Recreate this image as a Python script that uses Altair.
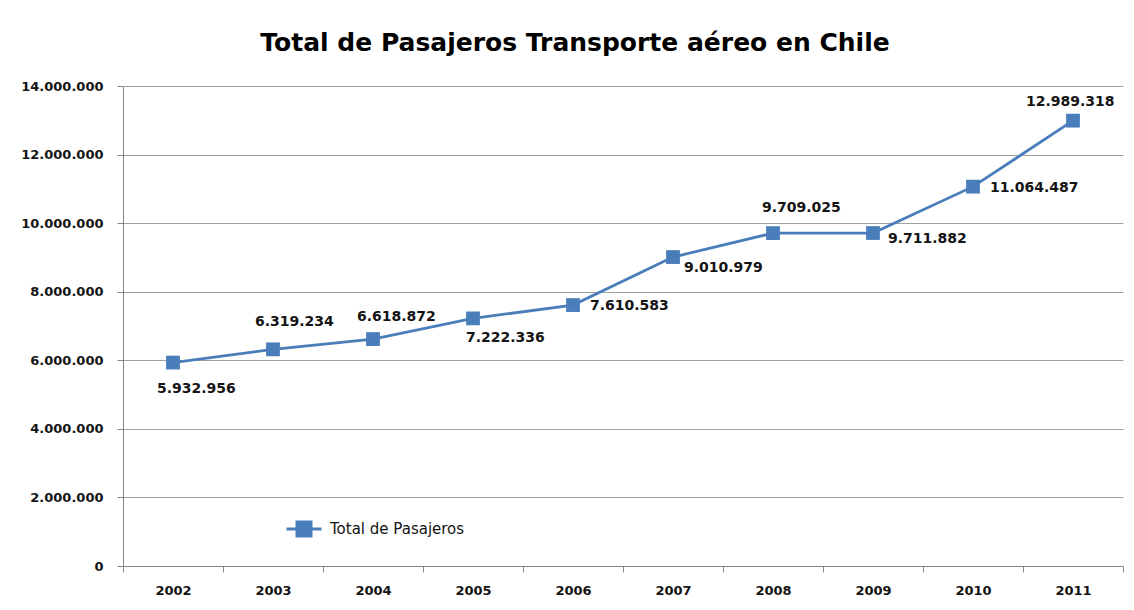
import altair as alt
import pandas as pd

# ---- data ----
years = ["2002", "2003", "2004", "2005", "2006", "2007", "2008", "2009", "2010", "2011"]
pasajeros = [5932956, 6319234, 6618872, 7222336, 7610583, 9010979, 9709025, 9711882, 11064487, 12989318]
serie = "Total de Pasajeros"
y_ticks = [0, 2000000, 4000000, 6000000, 8000000, 10000000, 12000000, 14000000]

df = pd.DataFrame({"year": years, "value": pasajeros})
df["serie"] = serie
df["label"] = [f"{v:,}".replace(",", ".") for v in pasajeros]

BLUE = "#4A7EBB"
TXT = "#141414"
FONT = "DejaVu Sans"

x_enc = alt.X("year:O", sort=years,
              scale=alt.Scale(paddingInner=0, paddingOuter=0),
              axis=alt.Axis(title=None, tickBand="extent", labelAngle=0,
                            tickSize=6, labelPadding=12, labelFont=FONT,
                            labelFontSize=13, labelFontWeight="bold",
                            labelColor=TXT, domainColor="#868686",
                            tickColor="#868686", grid=False))
y_enc = alt.Y("value:Q", scale=alt.Scale(domain=[0, 14000000], nice=False),
              axis=alt.Axis(title=None, values=y_ticks, tickSize=6, labelPadding=14,
                            labelFont=FONT, labelFontSize=13, labelFontWeight="bold",
                            labelColor=TXT, domainColor="#868686", tickColor="#868686",
                            gridColor="#A0A0A0", gridWidth=1,
                            labelExpr="replace(format(datum.value, ','), regexp(',', 'g'), '.')"))

base = alt.Chart(df)

line = base.mark_line(strokeWidth=2.8, point=alt.OverlayMarkDef(shape="square", size=190, filled=True, color=BLUE)).encode(
    x=x_enc, y=y_enc,
    color=alt.Color("serie:N", scale=alt.Scale(range=[BLUE]),
                    legend=alt.Legend(title=None, orient="none", legendX=162, legendY=424,
                                      padding=0, symbolType="M-1,0H1M-0.4,-0.4H0.4V0.4H-0.4Z",
                                      symbolSize=1225, symbolFillColor=BLUE,
                                      symbolStrokeColor=BLUE, symbolStrokeWidth=3,
                                      labelFont=FONT, labelFontSize=15, labelColor=TXT,
                                      labelOffset=7))
)

# label placement (dx, dy) per point, left aligned
offsets = {
    "2002": (-16, 26), "2003": (-18, -27), "2004": (-16, -22), "2005": (-7, 20),
    "2006": (17, 1), "2007": (11, 11), "2008": (-11, -25), "2009": (15, 6),
    "2010": (17, 1), "2011": (-47, -19),
}
texts = []
for yr, (dx, dy) in offsets.items():
    texts.append(
        base.transform_filter(alt.datum.year == yr).mark_text(
            align="left", baseline="middle", dx=dx, dy=dy, font=FONT,
            fontSize=14, fontWeight="bold", color=TXT
        ).encode(x=alt.X("year:O", sort=years), y="value:Q", text="label:N")
    )

chart = alt.layer(line, *texts).properties(
    width=1000, height=480,
    title=alt.TitleParams("Total de Pasajeros Transporte aéreo en Chile", font=FONT,
                          fontSize=25, fontWeight="bold", color="#000000",
                          anchor="middle", frame="group", dx=-48, offset=24),
    autosize=alt.AutoSizeParams(type="none"),
    padding={"left": 115, "top": 78, "right": 3, "bottom": 36},
    background="white",
).configure_view(stroke=None)

chart.save("out.html", embed_options={"renderer": "svg", "actions": False})
